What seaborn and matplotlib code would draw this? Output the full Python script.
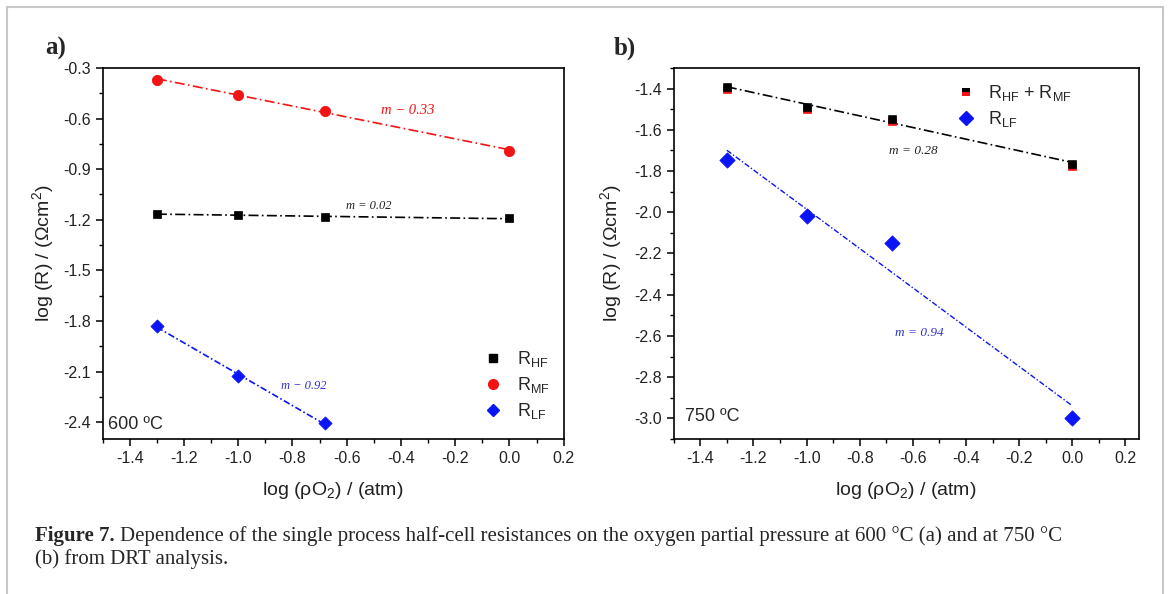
import numpy as np
import pandas as pd
import seaborn as sns
import matplotlib.pyplot as plt
from matplotlib.lines import Line2D
from matplotlib.patches import Rectangle
from matplotlib.ticker import MultipleLocator

# log(pO2) values used in both panels
x_po2 = [-1.3, -1.0, -0.68, 0.0]

# panel a) 600 C
a_hf = [-1.166, -1.170, -1.186, -1.192]
a_mf = [-0.371, -0.460, -0.553, -0.791]
a_lf_x = [-1.3, -1.0, -0.68]
a_lf = [-1.831, -2.128, -2.408]

# panel b) 750 C
b_hf_mf = [-1.392, -1.488, -1.547, -1.765]
b_hf_mf_red = [-1.402, -1.498, -1.557, -1.775]
b_lf = [-1.747, -2.018, -2.151, -2.998]

sns.set_style('ticks')
plt.rcParams['font.family'] = ['Liberation Sans', 'DejaVu Sans']
plt.rcParams['mathtext.fontset'] = 'custom'
plt.rcParams['mathtext.rm'] = 'Liberation Sans'
plt.rcParams['mathtext.it'] = 'Liberation Sans:italic'
plt.rcParams['axes.unicode_minus'] = False

RED = '#f21414'
BLUE = '#0a14f5'

fig = plt.figure(figsize=(11.7, 5.94), dpi=100)
ax1 = fig.add_axes([0.0877, 0.261, 0.3941, 0.6246])
ax2 = fig.add_axes([0.5758, 0.261, 0.3975, 0.6246])

# light grey frame around the figure
fig.patches.append(Rectangle((7 / 1170, -0.05), 1156 / 1170, 1.0 - 7 / 594 + 0.05,
                             transform=fig.transFigure, fill=False,
                             edgecolor='#c8c8c8', lw=1.5))


def fit_line(ax, x, y, color, dashes, lw=1.2):
    df = pd.DataFrame({'x': x, 'y': y})
    sns.regplot(data=df, x='x', y='y', ax=ax, scatter=False, ci=None, truncate=True,
                line_kws=dict(color=color, lw=lw, ls=(0, dashes)))


# ---- panel a
df_a = pd.DataFrame({'x': x_po2, 'hf': a_hf, 'mf': a_mf})
df_a_lf = pd.DataFrame({'x': a_lf_x, 'lf': a_lf})
fit_line(ax1, x_po2, a_mf, RED, (6, 2, 1, 2))
fit_line(ax1, x_po2, a_hf, 'black', (6, 2, 1, 2))
fit_line(ax1, a_lf_x, a_lf, BLUE, (4, 1.5, 1, 1.5))
sns.scatterplot(data=df_a, x='x', y='mf', ax=ax1, marker='o', s=55, color=RED, edgecolor=RED, zorder=3)
sns.scatterplot(data=df_a, x='x', y='hf', ax=ax1, marker='s', s=40, color='black', edgecolor='black', zorder=3)
sns.scatterplot(data=df_a_lf, x='x', y='lf', ax=ax1, marker='D', s=45, color=BLUE, edgecolor=BLUE, zorder=3)

ax1.set_xlim(-1.5, 0.2)
ax1.set_ylim(-2.5, -0.3)
ax1.xaxis.set_major_locator(MultipleLocator(0.2))
ax1.xaxis.set_minor_locator(MultipleLocator(0.1))
ax1.yaxis.set_major_locator(MultipleLocator(0.3))
ax1.yaxis.set_minor_locator(MultipleLocator(0.15))

serif_it = dict(family='Liberation Serif', style='italic', ha='center', va='center')
ax1.text(-0.375, -0.552, 'm − 0.33', color=RED, fontsize=10.5, **serif_it)
ax1.text(-0.52, -1.12, 'm = 0.02', color='#222222', fontsize=9, **serif_it)
ax1.text(-0.76, -2.187, 'm − 0.92', color='#3030d0', fontsize=9, **serif_it)
ax1.text(0.012, 0.04, '600 ºC', transform=ax1.transAxes, fontsize=13, ha='left', va='center')

h_a = [Line2D([], [], ls='none', marker='s', ms=6, color='black'),
       Line2D([], [], ls='none', marker='o', ms=7, color=RED),
       Line2D([], [], ls='none', marker='D', ms=6.5, color=BLUE)]
ax1.legend(h_a, [r'R$_\mathregular{HF}$', r'R$_\mathregular{MF}$', r'R$_\mathregular{LF}$'],
           loc='center left', bbox_to_anchor=(0.792, 0.145), frameon=False, fontsize=13,
           handlelength=1.0, handletextpad=0.8, labelspacing=0.35)

# ---- panel b
df_b = pd.DataFrame({'x': x_po2, 'hfmf': b_hf_mf, 'hfmf_red': b_hf_mf_red, 'lf': b_lf})
fit_line(ax2, x_po2, b_hf_mf, 'black', (6, 2, 1, 2))
fit_line(ax2, x_po2, b_lf, BLUE, (4, 1.5, 1, 1.5), lw=1.0)
sns.scatterplot(data=df_b, x='x', y='hfmf_red', ax=ax2, marker='s', s=38, color=RED, edgecolor=RED, zorder=3)
sns.scatterplot(data=df_b, x='x', y='hfmf', ax=ax2, marker='s', s=30, color='black', edgecolor='black', zorder=4)
sns.scatterplot(data=df_b, x='x', y='lf', ax=ax2, marker='D', s=60, color=BLUE, edgecolor=BLUE, zorder=3)

ax2.set_xlim(-1.5, 0.25)
ax2.set_ylim(-3.1, -1.3)
ax2.xaxis.set_major_locator(MultipleLocator(0.2))
ax2.xaxis.set_minor_locator(MultipleLocator(0.1))
ax2.yaxis.set_major_locator(MultipleLocator(0.2))
ax2.yaxis.set_minor_locator(MultipleLocator(0.1))

ax2.text(-0.6, -1.705, 'm = 0.28', color='#222222', fontsize=9.5, **serif_it)
ax2.text(-0.576, -2.584, 'm = 0.94', color='#3030d0', fontsize=9.5, **serif_it)
ax2.text(0.025, 0.06, '750 ºC', transform=ax2.transAxes, fontsize=13, ha='left', va='center')

h_b = [Line2D([], [], ls='none', marker='s', ms=6, fillstyle='top', markerfacecolor='black',
              markerfacecoloralt=RED, markeredgewidth=0),
       Line2D([], [], ls='none', marker='D', ms=7, color=BLUE)]
ax2.legend(h_b, [r'R$_\mathregular{HF}$ + R$_\mathregular{MF}$', r'R$_\mathregular{LF}$'],
           loc='center left', bbox_to_anchor=(0.575, 0.897), frameon=False, fontsize=13,
           handlelength=1.0, handletextpad=0.7, labelspacing=0.35)

for ax in (ax1, ax2):
    for sp in ax.spines.values():
        sp.set_color('black')
        sp.set_linewidth(1.2)
    ax.tick_params(which='both', direction='out', top=False, right=False, color='black',
                   labelsize=11.5, labelcolor='#222222')
    ax.tick_params(which='major', length=5, width=1.1)
    ax.tick_params(which='minor', length=3, width=1.0)
    ax.set_xlabel(r'log ($\mathregular{\rho O_2}$) / (atm)', fontsize=14, color='#222222')
    ax.set_ylabel('log (R) / (Ωcm$^2$)', fontsize=14, color='#222222')
    ax.xaxis.set_label_coords(0.5, -0.11)

ax1.yaxis.set_label_coords(-0.1, 0.5)
ax2.yaxis.set_label_coords(-0.107, 0.5)

fig.text(45 / 1170, 1 - 48 / 594, 'a)', fontsize=18, weight='bold', family='Liberation Serif',
         ha='left', va='center')
fig.text(614 / 1170, 1 - 48 / 594, 'b)', fontsize=18, weight='bold', family='Liberation Serif',
         ha='left', va='center')

# caption
cap_y1 = 1 - 541 / 594
cap_y2 = 1 - 564 / 594
cap_fs = 15
t1 = fig.text(35 / 1170, cap_y1, 'Figure 7.', fontsize=cap_fs, weight='bold',
              family='Liberation Serif', va='baseline')
fig.canvas.draw()
bb = t1.get_window_extent()
fig.text((bb.x1 + 5) / 1170, cap_y1,
         'Dependence of the single process half-cell resistances on the oxygen partial '
         'pressure at 600 °C (a) and at 750 °C',
         fontsize=cap_fs, family='Liberation Serif', va='baseline')
fig.text(35 / 1170, cap_y2, '(b) from DRT analysis.', fontsize=cap_fs,
         family='Liberation Serif', va='baseline')

fig.savefig('out.png', dpi=100)
